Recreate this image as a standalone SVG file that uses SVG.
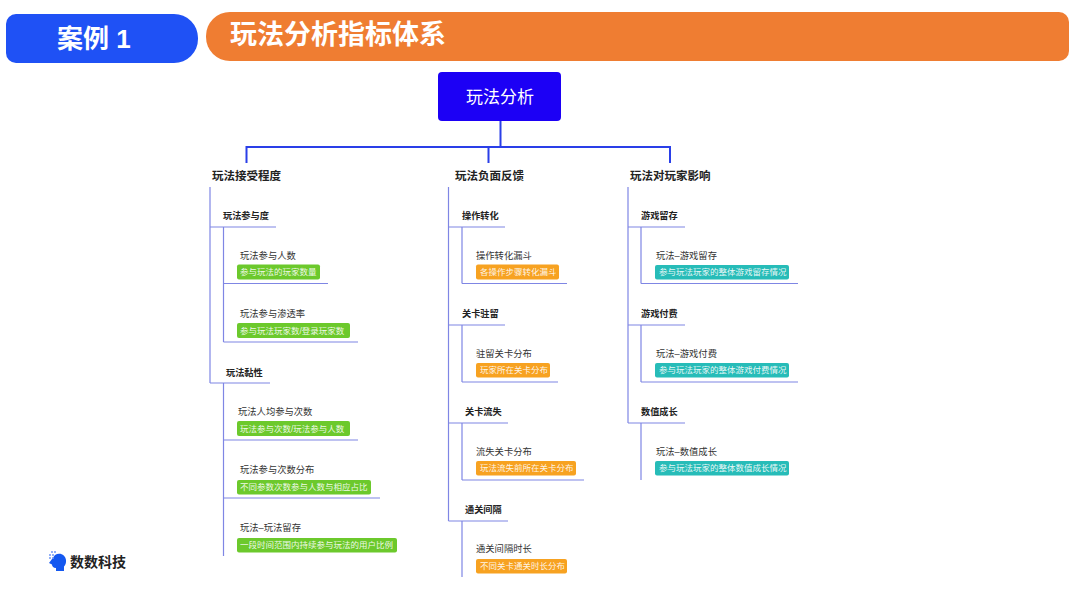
<svg xmlns="http://www.w3.org/2000/svg" width="1080" height="592" viewBox="0 0 1080 592">
<style>
text{font-family:"Liberation Sans","Noto Sans CJK SC",sans-serif;dominant-baseline:central}
.h{font-size:27px;font-weight:700;fill:#fff}
.root{font-size:17px;fill:#fff;text-anchor:middle}
.l1{font-size:11.5px;font-weight:700;fill:#222}
.l2{font-size:9.2px;font-weight:700;fill:#222}
.l3{font-size:9.3px;fill:#333}
.c{font-size:8.5px;fill:#fff;fill-opacity:.9}
.g{fill:#6cc92c}.o{fill:#f7a221}.t{fill:#27bcb8}
.m{fill:none;stroke:#2a3fe8;stroke-width:2}
.s{fill:none;stroke:#7f86e4;stroke-width:1.2}
</style>
<rect width="1080" height="592" fill="#fff"/>
<g id="case-badge">
<path d="M16 14H174A24 24 0 0 1 198 38V39A24 24 0 0 1 174 63H16A10 10 0 0 1 6 53V24A10 10 0 0 1 16 14Z" fill="#1f51f5"/>
<text class="h" x="57" y="39" font-size="26" style="font-size:26px">案例 1</text>
</g>
<g id="title-bar">
<path d="M230 12H1059A10 10 0 0 1 1069 22V51A10 10 0 0 1 1059 61H230A24 24 0 0 1 206 37V36A24 24 0 0 1 230 12Z" fill="#ef7d32"/>
<text class="h" x="230" y="35">玩法分析指标体系</text>
</g>
<g id="connectors">
<path class="m" d="M500.5 121V147M246.5 163V147H670V163M488.5 147V163"/>
<path class="s" d="M210 187V383M210 227H276M223.500 227V342M223.500 283.500H328M223.500 342H358M210 383H270M223.500 383V556M223.500 440H358M223.500 498H380"/>
<path class="s" d="M448.500 187V521M448.500 227H505M462 227V283.500M462 283.500H567M448.500 325H505M462 325V382M462 382H558M448.500 423H508M462 423V480M462 480H584M448.500 521H508M462 521V577"/>
<path class="s" d="M628 187V423M628 227H685M641 227V283.500M641 283.500H798M628 325H685M641 325V382M641 382H798M628 423H685M641 423V480"/>
</g>
<g id="root"><rect x="438" y="72" width="123" height="49" rx="4" fill="#1c00f5"/><text class="root" x="500" y="97">玩法分析</text></g>
<g id="a"><text class="l1" x="212" y="175.500">玩法接受程度</text></g>
<g id="b"><text class="l1" x="455" y="175.500">玩法负面反馈</text></g>
<g id="c"><text class="l1" x="630" y="175.500">玩法对玩家影响</text></g>

<g id="a1"><text class="l2" x="223" y="215.500">玩法参与度</text></g>
<g id="a11"><text class="l3" x="240" y="255.500">玩法参与人数</text><rect class="g" x="237" y="264.500" width="83" height="15" rx="2"/><text class="c" x="240" y="272">参与玩法的玩家数量</text></g>
<g id="a12"><text class="l3" x="240" y="314">玩法参与渗透率</text><rect class="g" x="237" y="323" width="113" height="15" rx="2"/><text class="c" x="240" y="330.500">参与玩法玩家数/登录玩家数</text></g>
<g id="a2"><text class="l2" x="226" y="372.500">玩法黏性</text></g>
<g id="a21"><text class="l3" x="238" y="411.500">玩法人均参与次数</text><rect class="g" x="237" y="421" width="113" height="15" rx="2"/><text class="c" x="240" y="428.500">玩法参与次数/玩法参与人数</text></g>
<g id="a22"><text class="l3" x="240" y="470">玩法参与次数分布</text><rect class="g" x="237" y="480" width="134" height="14.500" rx="2"/><text class="c" x="240" y="487">不同参数次数参与人数与相应占比</text></g>
<g id="a23"><text class="l3" x="240" y="528">玩法–玩法留存</text><rect class="g" x="237" y="538" width="160" height="14.500" rx="2"/><text class="c" x="240" y="545">一段时间范围内持续参与玩法的用户比例</text></g>

<g id="b1"><text class="l2" x="462" y="215.500">操作转化</text></g>
<g id="b11"><text class="l3" x="476" y="255.500">操作转化漏斗</text><rect class="o" x="476" y="264.500" width="83" height="15" rx="2"/><text class="c" x="480" y="272">各操作步骤转化漏斗</text></g>
<g id="b2"><text class="l2" x="462" y="313.500">关卡驻留</text></g>
<g id="b21"><text class="l3" x="476" y="353.500">驻留关卡分布</text><rect class="o" x="476" y="363" width="74" height="14.500" rx="2"/><text class="c" x="480" y="370">玩家所在关卡分布</text></g>
<g id="b3"><text class="l2" x="465" y="412">关卡流失</text></g>
<g id="b31"><text class="l3" x="476" y="451.500">流失关卡分布</text><rect class="o" x="476" y="461" width="100" height="14.500" rx="2"/><text class="c" x="480" y="468">玩法流失前所在关卡分布</text></g>
<g id="b4"><text class="l2" x="465" y="510">通关间隔</text></g>
<g id="b41"><text class="l3" x="476" y="549">通关间隔时长</text><rect class="o" x="476" y="559" width="91" height="14.500" rx="2"/><text class="c" x="480" y="566">不同关卡通关时长分布</text></g>

<g id="c1"><text class="l2" x="641" y="215.500">游戏留存</text></g>
<g id="c11"><text class="l3" x="656" y="255.500">玩法–游戏留存</text><rect class="t" x="655" y="265" width="134" height="14.500" rx="2"/><text class="c" x="659" y="272">参与玩法玩家的整体游戏留存情况</text></g>
<g id="c2"><text class="l2" x="641" y="313.500">游戏付费</text></g>
<g id="c21"><text class="l3" x="656" y="353.500">玩法–游戏付费</text><rect class="t" x="655" y="363" width="134" height="14.500" rx="2"/><text class="c" x="659" y="370">参与玩法玩家的整体游戏付费情况</text></g>
<g id="c3"><text class="l2" x="641" y="412">数值成长</text></g>
<g id="c31"><text class="l3" x="656" y="451.500">玩法–数值成长</text><rect class="t" x="655" y="461" width="134" height="14.500" rx="2"/><text class="c" x="659" y="468">参与玩法玩家的整体数值成长情况</text></g>

<g id="logo">
<path d="M55 555C60 552 65.500 555 66 560C66.300 563 65.500 565 64 566.500V571H56V568C53 568 52 566 52 564.500L49 563Z" fill="#1458f0"/>
<g fill="#6f97f5"><circle cx="52" cy="552" r="1"/><circle cx="55" cy="552" r="1"/><circle cx="50" cy="555" r="1"/><circle cx="53" cy="555" r="1"/><circle cx="50" cy="558" r="1"/><circle cx="53" cy="558" r="1"/></g>
<text x="70" y="562" font-size="14" font-weight="700" fill="#222">数数科技</text>
</g>
</svg>
